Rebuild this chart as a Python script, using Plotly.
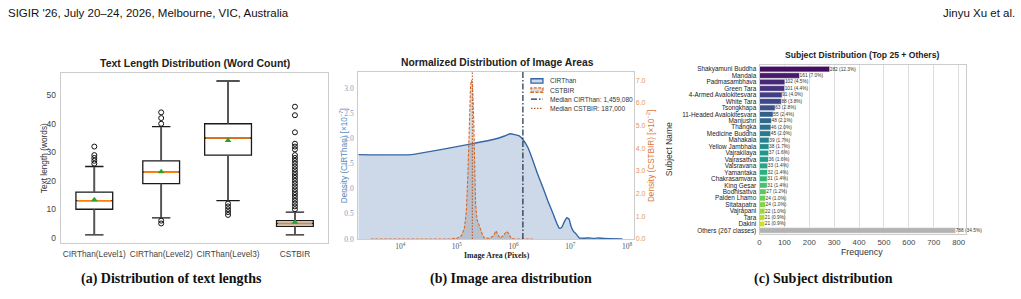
import numpy as np
import plotly.graph_objects as go
from plotly.colors import sample_colorscale

W, H = 1021, 299

# ---------------- Panel (a): text length box plots ----------------
text_categories = ["CIRThan(Level1)", "CIRThan(Level2)", "CIRThan(Level3)", "CSTBIR"]
text_q1 = [10, 19, 29, 4]
text_median = [13, 23, 35, 5]
text_q3 = [16, 27, 40, 6]
text_lowfence = [1, 7, 13, 1]
text_highfence = [25, 39, 55, 9]
text_mean = [13.3, 23.2, 34.1, 5.4]
text_outliers = [
    [26, 27, 28, 29, 32],
    [5, 6, 40, 42, 44],
    [8, 9, 10, 11, 12],
    list(range(10, 30)) + [31, 32, 33, 37, 43, 46],
]
text_yticks = [0, 10, 20, 30, 40, 50]

# ---------------- Panel (b): image area densities ----------------
cir_log_area = [3.26, 4.19, 5.31, 5.66, 5.84, 5.94, 6.10, 6.18, 6.25, 6.34, 6.42, 6.51,
                6.60, 6.69, 6.77, 6.81, 6.85, 6.89, 6.94, 6.98, 7.01, 7.05, 7.10, 7.16,
                7.25, 7.33, 7.42, 7.50, 7.60, 7.92]
cir_density = [1.675, 1.675, 1.90, 1.98, 2.045, 2.09, 2.045, 1.95, 1.82, 1.56, 1.30, 1.04,
               0.77, 0.52, 0.29, 0.21, 0.23, 0.33, 0.42, 0.39, 0.26, 0.16, 0.10, 0.02,
               0.015, 0.02, 0.012, 0.02, 0.01, 0.0]
cst_log_area = [3.48, 4.89, 5.01, 5.08, 5.13, 5.165, 5.194, 5.224, 5.241, 5.259, 5.276,
                5.294, 5.312, 5.329, 5.353, 5.382, 5.412, 5.447, 5.482, 5.571, 5.647,
                5.688, 5.718, 5.759, 5.818, 5.876, 5.912, 5.953, 6.012, 6.335]
cst_density = [0.0, 0.0, 0.04, 0.14, 0.46, 1.16, 2.89, 5.50, 6.80, 7.01, 6.80,
               5.50, 3.33, 1.59, 0.87, 0.65, 0.51, 0.22, 0.04, 0.03, 0.14,
               0.36, 0.22, 0.04, 0.14, 0.33, 0.25, 0.04, 0.0, 0.0]
cir_median_area = 1459080
cst_median_area = 187000
area_ticks = [1e4, 1e5, 1e6, 1e7, 1e8]
area_ticktext = ["10<sup>4</sup>", "10<sup>5</sup>", "10<sup>6</sup>", "10<sup>7</sup>", "10<sup>8</sup>"]
cir_yticks = [0.0, 0.5, 1.0, 1.5, 2.0, 2.5, 3.0]
cst_yticks = [0, 1, 2, 3, 4, 5, 6, 7]

# ---------------- Panel (c): subject distribution ----------------
subjects = ["Shakyamuni Buddha", "Mandala", "Padmasambhava", "Green Tara",
            "4-Armed Avalokitesvara", "White Tara", "Tsongkhapa",
            "11-Headed Avalokitesvara", "Manjushri", "Thangka", "Medicine Buddha",
            "Mahakala", "Yellow Jambhala", "Vajrakilaya", "Vajrasattva", "Vaisravana",
            "Yamantaka", "Chakrasamvara", "King Gesar", "Bodhisattva", "Palden Lhamo",
            "Sitatapatra", "Vajrapani", "Tara", "Dakini", "Others (267 classes)"]
subject_counts = [282, 161, 102, 101, 91, 88, 63, 55, 48, 46, 45, 39, 38, 37, 36, 33,
                  32, 31, 31, 27, 24, 24, 22, 21, 21, 788]
freq_ticks = [0, 100, 200, 300, 400, 500, 600, 700, 800]

# ---------------- styling helpers ----------------
SANS = "Liberation Sans, Arial, sans-serif"
SERIF = "Liberation Serif, Times New Roman, serif"


def X(px):
    return px / W


def Y(py):
    return 1 - py / H


fig = go.Figure()

# ===== Panel (a) =====
box_widths = [0.55, 0.55, 0.7, 0.55]
for i, cat in enumerate(text_categories):
    pos = i + 1
    w = box_widths[i]
    fig.add_trace(go.Box(
        x=[pos], q1=[text_q1[i]], median=[text_median[i]], q3=[text_q3[i]],
        lowerfence=[text_lowfence[i]], upperfence=[text_highfence[i]],
        width=w, whiskerwidth=0.5, fillcolor="white",
        line=dict(color="#1a1a1a", width=1.3), boxpoints=False,
        showlegend=False, hoverinfo="skip", xaxis="x", yaxis="y"))
    fig.add_trace(go.Scatter(
        x=[pos, pos, None, pos, pos],
        y=[text_q3[i], text_highfence[i], None, text_lowfence[i], text_q1[i]],
        mode="lines", line=dict(color="#555555", width=1.8),
        showlegend=False, hoverinfo="skip", xaxis="x", yaxis="y"))
    fig.add_trace(go.Scatter(
        x=[pos - w / 2 + 0.02, pos + w / 2 - 0.02],
        y=[text_median[i], text_median[i]],
        mode="lines", line=dict(color="#ff7f0e", width=1.5),
        showlegend=False, hoverinfo="skip", xaxis="x", yaxis="y"))
    fig.add_trace(go.Scatter(
        x=[pos] * len(text_outliers[i]), y=text_outliers[i], mode="markers",
        marker=dict(symbol="circle-open", size=5, color="#111111", line=dict(width=1)),
        showlegend=False, hoverinfo="skip", xaxis="x", yaxis="y"))
    fig.add_trace(go.Scatter(
        x=[pos], y=[text_mean[i]], mode="markers",
        marker=dict(symbol="triangle-up", size=6, color="#2ca02c"),
        showlegend=False, hoverinfo="skip", xaxis="x", yaxis="y"))

# ===== Panel (b) =====
cir_area = [10 ** v for v in cir_log_area]
cst_area = [10 ** v for v in cst_log_area]
fig.add_trace(go.Scatter(
    x=cir_area, y=cir_density, mode="lines",
    line=dict(color="#3567a4", width=1.4, shape="spline", smoothing=0.4),
    fill="tozeroy", fillcolor="rgba(60,110,170,0.26)", name="CIRThan",
    showlegend=False, hoverinfo="skip", xaxis="x2", yaxis="y2"))
fig.add_trace(go.Scatter(
    x=cst_area, y=cst_density, mode="lines",
    line=dict(color="#d9692a", width=1.1, dash="3px,1.5px"),
    fill="tozeroy", fillcolor="rgba(128,128,128,0.28)", name="CSTBIR",
    showlegend=False, hoverinfo="skip", xaxis="x2", yaxis="y3"))
fig.add_trace(go.Scatter(
    x=[cir_median_area, cir_median_area], y=[0, 1], mode="lines",
    line=dict(color="#1b2a41", width=1.2, dash="6px,2px,1.5px,2px"),
    showlegend=False, hoverinfo="skip", xaxis="x2", yaxis="y4"))
fig.add_trace(go.Scatter(
    x=[cst_median_area, cst_median_area], y=[0, 1], mode="lines",
    line=dict(color="#b85a28", width=1.1, dash="1.5px,1.5px"),
    showlegend=False, hoverinfo="skip", xaxis="x2", yaxis="y4"))

# ===== Panel (c) =====
n_top = len(subjects) - 1
viridis = sample_colorscale("Viridis", list(np.linspace(0, 1, n_top + 3)[1:-2]))
bar_colors = viridis + ["#b3b3b3"]
total = sum(subject_counts)
bar_labels = [f"{c} ({c / total * 100:.1f}%)" for c in subject_counts]
fig.add_trace(go.Bar(
    y=subjects, x=subject_counts, orientation="h",
    marker=dict(color=bar_colors, line=dict(color="white", width=0.6)),
    width=0.88, text=bar_labels, textposition="outside", constraintext="none",
    textfont=dict(size=4.8, color="#333333", family=SANS), cliponaxis=False,
    showlegend=False, hoverinfo="skip", xaxis="x3", yaxis="y5"))

frame = dict(showline=True, mirror=True, linecolor="#cccccc", linewidth=1.3,
             zeroline=False, showgrid=False, ticks="")

fig.update_layout(
    width=W, height=H, margin=dict(l=0, r=0, t=0, b=0),
    paper_bgcolor="white", plot_bgcolor="white",
    xaxis=dict(domain=[X(59), X(327)], range=[0.5, 4.5], anchor="y",
               tickmode="array", tickvals=[1, 2, 3, 4], ticktext=text_categories,
               tickfont=dict(family=SANS, size=8.3, color="#444444"),
               ticklabelstandoff=3, **frame),
    yaxis=dict(domain=[Y(247), Y(74)], range=[-1.8, 57.9], anchor="x",
               tickmode="array", tickvals=text_yticks,
               tickfont=dict(family=SANS, size=8.5, color="#444444"),
               ticklabelstandoff=2, **frame),
    xaxis2=dict(domain=[X(357), X(633)], type="log", range=[3.26, 8.12], anchor="y2",
                tickmode="array", tickvals=area_ticks, ticktext=area_ticktext,
                tickfont=dict(family=SERIF, size=7.5, color="#555555"),
                ticklabelstandoff=0, **frame),
    yaxis2=dict(domain=[Y(243), Y(73)], range=[0, 3.32], anchor="x2",
                tickmode="array", tickvals=cir_yticks, tickformat=".1f",
                tickfont=dict(family=SERIF, size=7.5, color="#7a9ec8"),
                ticklabelstandoff=2, **frame),
    yaxis3=dict(overlaying="y2", side="right", range=[0, 7.38], anchor="x2",
                tickmode="array", tickvals=cst_yticks, tickformat=".1f",
                tickfont=dict(family=SANS, size=7, color="#e0955f"),
                showgrid=False, zeroline=False, showline=False, ticks="",
                ticklabelstandoff=1),
    yaxis4=dict(overlaying="y2", range=[0, 1], visible=False, anchor="x2"),
    xaxis3=dict(domain=[X(759), X(966)], range=[0, 830], anchor="y5",
                tickmode="array", tickvals=freq_ticks,
                tickfont=dict(family=SANS, size=7.8, color="#444444"),
                showline=True, mirror=True, linecolor="#cccccc", linewidth=1,
                showgrid=True, gridcolor="#dddddd", gridwidth=1.3, zeroline=False,
                ticks="", ticklabelstandoff=0),
    yaxis5=dict(domain=[Y(238.3), Y(66)], type="category", range=[25.6, -0.65],
                anchor="x3", categoryorder="array", categoryarray=subjects,
                tickmode="array", tickvals=subjects, ticktext=subjects,
                tickfont=dict(family=SANS, size=6.4, color="#222222"),
                showline=True, mirror=True, linecolor="#cccccc", linewidth=1,
                showgrid=False, zeroline=False, ticks="", ticklabelstandoff=1),
)

ann = []


def add_text(text, x, y, size, family=SANS, color="#222222", bold=False,
             xanchor="center", angle=0):
    t = f"<b>{text}</b>" if bold else text
    ann.append(dict(text=t, x=X(x), y=Y(y), xref="paper", yref="paper",
                    xanchor=xanchor, yanchor="middle", showarrow=False,
                    textangle=angle, font=dict(family=family, size=size, color=color)))


# header
add_text("SIGIR '26, July 20–24, 2026, Melbourne, VIC, Australia", 4, 13, 11.5,
         color="#111111", xanchor="left")
add_text("Jinyu Xu et al.", 1017, 13, 11.5, color="#111111", xanchor="right")

# titles
add_text("Text Length Distribution (Word Count)", 193.5, 64, 10.5, bold=True)
add_text("Normalized Distribution of Image Areas", 496, 64, 10.3, bold=True)
add_text("Subject Distribution (Top 25 + Others)", 862, 56, 8.6, bold=True)

# axis titles
add_text("Text length (words)", 42, 161, 8.3, color="#333333", angle=-90)
add_text("Image Area (Pixels)", 496, 260, 7.8, family=SERIF, color="#222222", bold=True)
add_text("Density (CIRThan) [×10<sup>−7</sup>]", 342.5, 158, 8.2, color="#5b8cc0", angle=-90)
add_text("Density (CSTBIR) [×10<sup>−2</sup>]", 650, 159, 8.2, color="#d9773a", angle=-90)
add_text("Subject Name", 669, 152, 8.6, color="#333333", angle=-90)
add_text("Frequency", 862, 256, 8.8, color="#333333")

# captions
add_text("(a) Distribution of text lengths", 170, 284, 14, family=SERIF, color="#111111", bold=True)
add_text("(b) Image area distribution", 510, 284, 14, family=SERIF, color="#111111", bold=True)
add_text("(c) Subject distribution", 823, 284, 14, family=SERIF, color="#111111", bold=True)

# manual legend for panel (b)
legend_items = [
    ("CIRThan", "patch", "#3567a4", "rgba(60,110,170,0.26)", "solid"),
    ("CSTBIR", "patch", "#d9692a", "rgba(128,128,128,0.28)", "3px,1.5px"),
    ("Median CIRThan: 1,459,080", "line", "#1b2a41", None, "6px,2px,1.5px,2px"),
    ("Median CSTBIR: 187,000", "line", "#b85a28", None, "1.5px,1.5px"),
]
shapes = []
ly0, lstep = 82.3, 9.3
for k, (lab, kind, col, fillc, dash) in enumerate(legend_items):
    yy = ly0 + k * lstep
    if kind == "patch":
        shapes.append(dict(type="rect", xref="paper", yref="paper",
                           x0=X(530), x1=X(542), y0=Y(yy + 2.2), y1=Y(yy - 2.2),
                           line=dict(color=col, width=1.3, dash=dash), fillcolor=fillc))
    else:
        shapes.append(dict(type="line", xref="paper", yref="paper",
                           x0=X(530), x1=X(542), y0=Y(yy), y1=Y(yy),
                           line=dict(color=col, width=1.2, dash=dash)))
    add_text(lab, 547, yy, 6.6, color="#333333", xanchor="left")

fig.update_layout(annotations=ann, shapes=shapes)
fig.write_html("out.html")
